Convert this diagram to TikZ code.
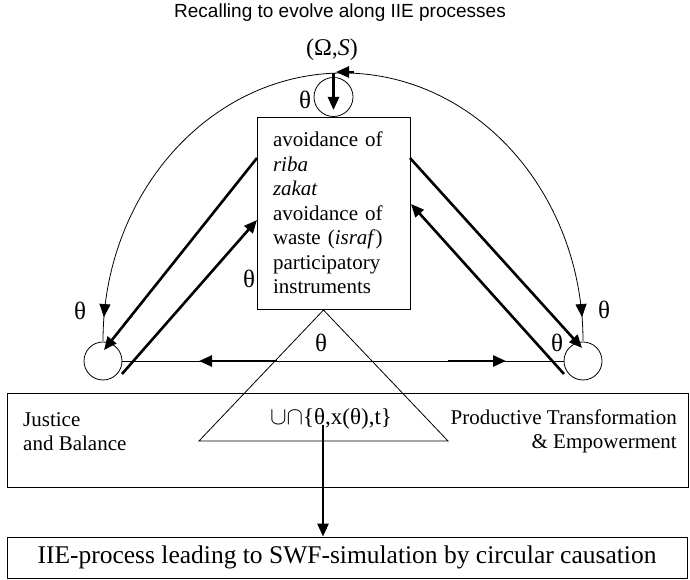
\documentclass[tikz,border=0pt]{standalone}
\usepackage{fontspec}
\setmainfont{Liberation Serif}
\newfontfamily\titlefont{Liberation Sans}
\usetikzlibrary{arrows.meta,decorations.markings,calc}
\tikzset{
  thinline/.style={line width=0.8pt},
  boldline/.style={line width=2.6pt},
  tipend/.style={-{Triangle[length=13pt,width=11pt]}},
  txt/.style={font=\fontsize{21}{24.5}\selectfont, inner sep=0pt},
  thlabel/.style={font=\fontsize{25}{28}\selectfont, inner sep=0pt},
  ring/.style={circle, draw, thinline, inner sep=0pt},
  arcmark/.style={postaction={decorate}, decoration={markings,
      mark=at position #1 with {\arrow{Triangle[length=13pt,width=11pt]}}}}
}
\begin{document}
\begin{tikzpicture}[x=1pt,y=1pt]
\useasboundingbox (0,0) rectangle (690,580);
% title and top label
\node[font=\titlefont\fontsize{19}{22}\selectfont, inner sep=0pt] (title) at (340,567) {Recalling to evolve along IIE processes};
\node[font=\fontsize{24}{28}\selectfont, inner sep=0pt] (omega) at (332,530) {(Ω,\textit{S})};
% main box
\node[draw, thinline, rectangle, minimum width=153pt, minimum height=192pt,
      text width=121pt, inner xsep=16pt, inner ysep=0pt, align=left,
      font=\fontsize{21}{24.5}\selectfont] (box) at (333.5,367)
  {avoidance of\\ \textit{riba}\\ \textit{zakat}\\ avoidance of\\ waste (\textit{israf})\\ participatory\\ instruments};
% circles
\node[ring, minimum size=39pt] (topc) at (333.5,483) {};
\node[ring, minimum size=38pt] (lc) at (103,219) {};
\node[ring, minimum size=38pt] (rc) at (583,219) {};
% big arc
\coordinate (arctop) at (343,507);
\draw[thinline, arcmark=0.94] (arctop) arc[start angle=90, end angle=180, x radius=240, y radius=268];
\draw[thinline, arcmark=0.94] (arctop) arc[start angle=90, end angle=0, x radius=240, y radius=268];
% top arrows
\coordinate (ta1) at (354,508);
\coordinate (ta2) at (336,508);
\draw[boldline, tipend] (ta1) -- (ta2);
\coordinate (tv1) at (333.5,507);
\coordinate (tv2) at (333.5,470);
\draw[boldline, tipend] (tv1) -- (tv2);
% horizontal line
\draw[thinline] (lc.east) -- (rc.west);
\coordinate (hl1) at (277,219);
\coordinate (hl2) at (199,219);
\coordinate (hr1) at (448,219);
\coordinate (hr2) at (506,219);
\draw[boldline, tipend] (hl1) -- (hl2);
\draw[boldline, tipend] (hr1) -- (hr2);
% diagonals
\coordinate (l1a) at (257,422);
\coordinate (l1b) at (104,230);
\coordinate (l2a) at (122,206);
\coordinate (l2b) at (257,360);
\coordinate (r1a) at (410,422);
\coordinate (r1b) at (582,232);
\coordinate (r2a) at (564,206);
\coordinate (r2b) at (411,376);
\draw[boldline, tipend] (l1a) -- (l1b);
\draw[boldline, tipend] (l2a) -- (l2b);
\draw[boldline, tipend] (r1a) -- (r1b);
\draw[boldline, tipend] (r2a) -- (r2b);
% middle wide box
\node[draw, thinline, rectangle, minimum width=681pt, minimum height=94pt, inner sep=0pt] (mid) at (347.5,140) {};
\node[txt, align=left, anchor=west] (just) at (23,148.5) {Justice\\and Balance};
\node[txt, align=right, anchor=east] (prod) at (677,148.5) {Productive Transformation\\\& Empowerment};
% triangle
\coordinate (tapex) at (323.5,270);
\coordinate (tleft) at (199,139);
\coordinate (tright) at (448,139);
\draw[thinline] (tapex) -- (tleft) -- (tright) -- cycle;
\node[font=\fontsize{23}{26}\selectfont, inner sep=0pt] (form) at (331,161) {\fontsize{25}{26}\selectfont$\cup\cap$\fontsize{23}{26}\selectfont\{θ,x(θ),t\}};
% bottom box
\node[draw, thinline, rectangle, minimum width=680pt, minimum height=41pt, inner sep=0pt, font=\fontsize{25.5}{28}\selectfont] (bot) at (347,22.5) {IIE-process leading to SWF-simulation by circular causation};
\coordinate (va) at (323,155);
\draw[boldline, tipend] (va) -- (va |- bot.north);
% theta labels
\node[thlabel] (th1) at (305,480) {θ};
\node[thlabel] (th2) at (249,301) {θ};
\node[thlabel] (th3) at (80,269) {θ};
\node[thlabel] (th4) at (604,270) {θ};
\node[thlabel] (th5) at (557,237) {θ};
\node[thlabel] (th6) at (321,237) {θ};
\end{tikzpicture}
\end{document}
